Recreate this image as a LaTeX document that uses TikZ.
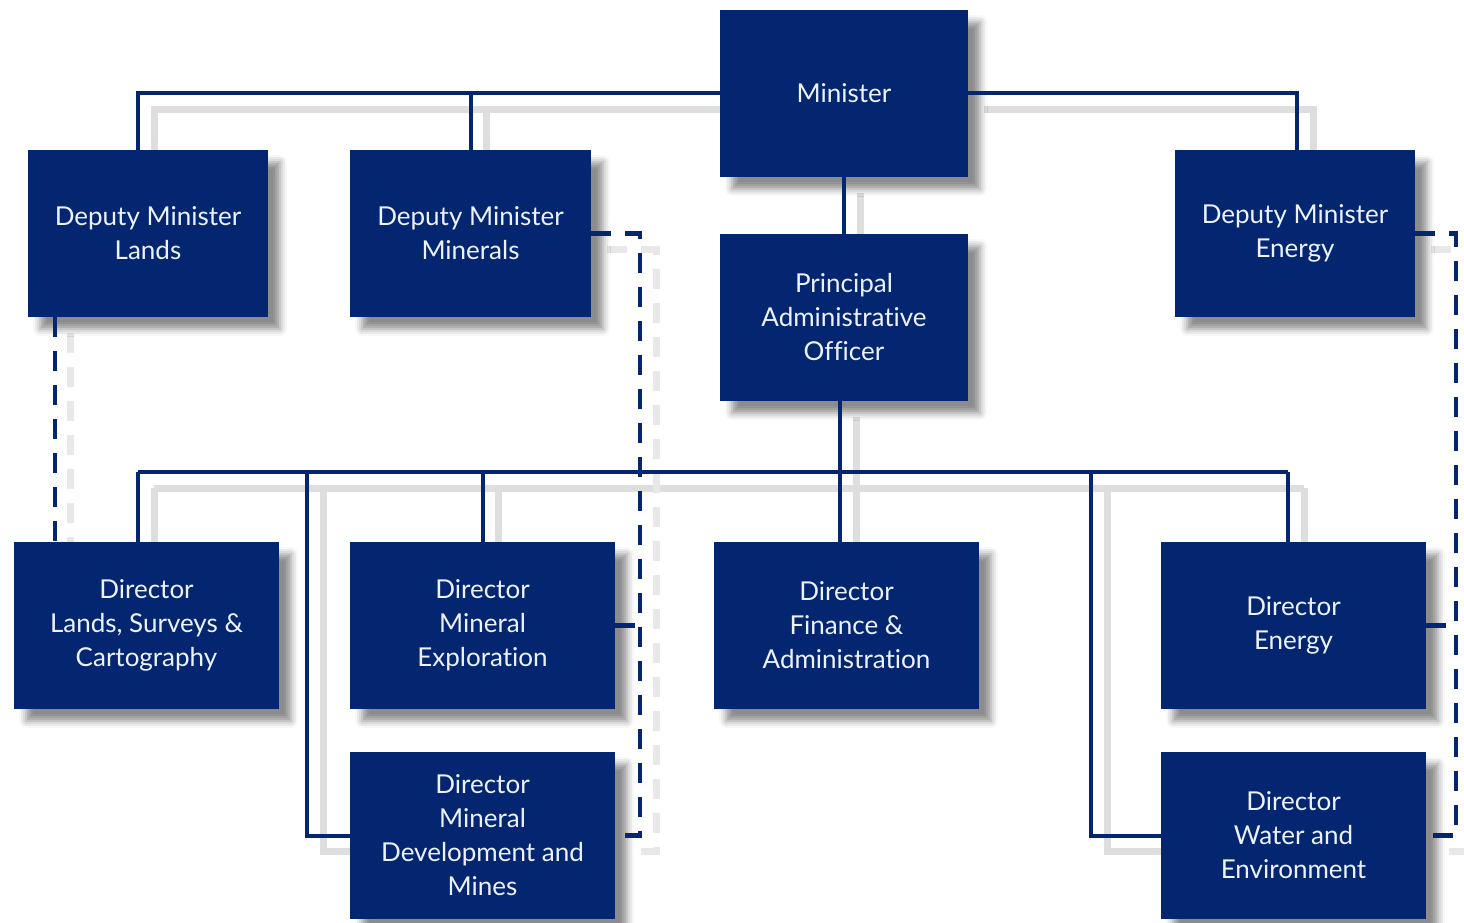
\documentclass[tikz,border=0pt]{standalone}
\usepackage{fontspec}
\setmainfont{Lato}[Ligatures={NoCommon}]
\usetikzlibrary{shadows.blur}
\definecolor{navy}{RGB}{4,38,112}
\definecolor{txt}{RGB}{236,242,255}
\pgfdeclarelayer{bg}
\pgfsetlayers{bg,main}
\tikzset{
  box/.style={draw=none, fill=navy, text=txt, align=center, inner sep=0pt,
    minimum height=167pt, font=\fontsize{26}{34}\selectfont,
    blur shadow={shadow xshift=12pt, shadow yshift=-12pt, shadow blur radius=7pt, shadow opacity=45}},
  conn/.style={draw=navy, line width=4pt},
  dashc/.style={draw=navy, line width=4.5pt, dash pattern=on 20pt off 14pt},
  shad/.style={draw=black!13, line width=7pt},
  shaddash/.style={draw=black!9, line width=7pt, dash pattern=on 20pt off 14pt}
}
\begin{document}
\begin{tikzpicture}[x=1pt,y=-1pt]
\useasboundingbox (0,0) rectangle (1464,923);
% nodes
\node[box, minimum width=248pt] (min) at (844,93.5) {Minister};
\node[box, minimum width=240pt] (dml) at (148,233.5) {Deputy Minister\\Lands};
\node[box, minimum width=241pt] (dmm) at (470.5,233.5) {Deputy Minister\\Minerals};
\node[box, minimum width=248pt] (pao) at (844,317.5) {Principal\\Administrative\\Officer};
\node[box, minimum width=240pt] (dme) at (1295,233.5) {Deputy Minister\\Energy};
\node[box, minimum width=265pt] (dl) at (146.5,625.5) {Director\\Lands, Surveys \&\\Cartography};
\node[box, minimum width=265pt] (dmx) at (482.5,625.5) {Director\\Mineral\\Exploration};
\node[box, minimum width=265pt] (dfa) at (846.5,625.5) {Director\\Finance \&\\Administration};
\node[box, minimum width=265pt] (den) at (1293.5,625.5) {Director\\Energy};
\node[box, minimum width=265pt] (dmd) at (482.5,835.5) {Director\\Mineral\\Development and\\Mines};
\node[box, minimum width=265pt] (dwe) at (1293.5,835.5) {Director\\Water and\\Environment};
% helper coordinates
\coordinate (busL) at (138,472);
\coordinate (busR) at (1288,472);
\coordinate (bus) at (840,472);
\coordinate (lv) at (307,472);
\coordinate (rv) at (1091,472);
\coordinate (mvx) at (640,0);
\coordinate (evx) at (1456,0);
% line shadows
\begin{pgfonlayer}{bg}
\begin{scope}[transform canvas={xshift=16pt,yshift=-16pt}]
\draw[shad] ([xshift=-10pt]dml.north) |- (min.west);
\draw[shad] (dmm.north) -- (dmm.north |- min.west);
\draw[shad] (min.east) -| ([xshift=2pt]dme.north);
\draw[shad] (min.south) -- (pao.north);
\draw[shad] (busL) -- (busR);
\draw[shad] (busL) -- (busL |- dl.north);
\draw[shad] (busR) -- (busR |- den.north);
\draw[shad] (dmx.north) -- (dmx.north |- bus);
\draw[shad] ([xshift=-4pt]pao.south) -- (bus) -- (bus |- dfa.north);
\draw[shad] (lv) |- (dmd.west);
\draw[shad] (rv) |- (dwe.west);
\draw[shaddash] ([xshift=27pt]dml.south west) -- ([xshift=41pt]dl.north west);
\draw[shaddash] (dmm.east) -- (dmm.east -| mvx) -- (dmd.east -| mvx) -- (dmd.east);
\draw[shaddash] (dme.east) -- (dme.east -| evx) -- (dwe.east -| evx) -- (dwe.east);
\end{scope}
\end{pgfonlayer}
% connectors
\draw[conn] ([xshift=-10pt]dml.north) |- (min.west);
\draw[conn] (dmm.north) -- (dmm.north |- min.west);
\draw[conn] (min.east) -| ([xshift=2pt]dme.north);
\draw[conn] (min.south) -- (pao.north);
\draw[conn] (busL) -- (busR);
\draw[conn] (busL) -- (busL |- dl.north);
\draw[conn] (busR) -- (busR |- den.north);
\draw[conn] (dmx.north) -- (dmx.north |- bus);
\draw[conn] ([xshift=-4pt]pao.south) -- (bus) -- (bus |- dfa.north);
\draw[conn] (lv) |- (dmd.west);
\draw[conn] (rv) |- (dwe.west);
% dashed connectors
\draw[dashc] ([xshift=27pt]dml.south west) -- ([xshift=41pt]dl.north west);
\draw[dashc] (dmm.east) -- (dmm.east -| mvx) -- (dmd.east -| mvx) -- (dmd.east);
\draw[dashc] (dmx.east) -- (dmx.east -| mvx);
\draw[dashc] (dme.east) -- (dme.east -| evx) -- (dwe.east -| evx) -- (dwe.east);
\draw[dashc] (den.east) -- (den.east -| evx);
\end{tikzpicture}
\end{document}
